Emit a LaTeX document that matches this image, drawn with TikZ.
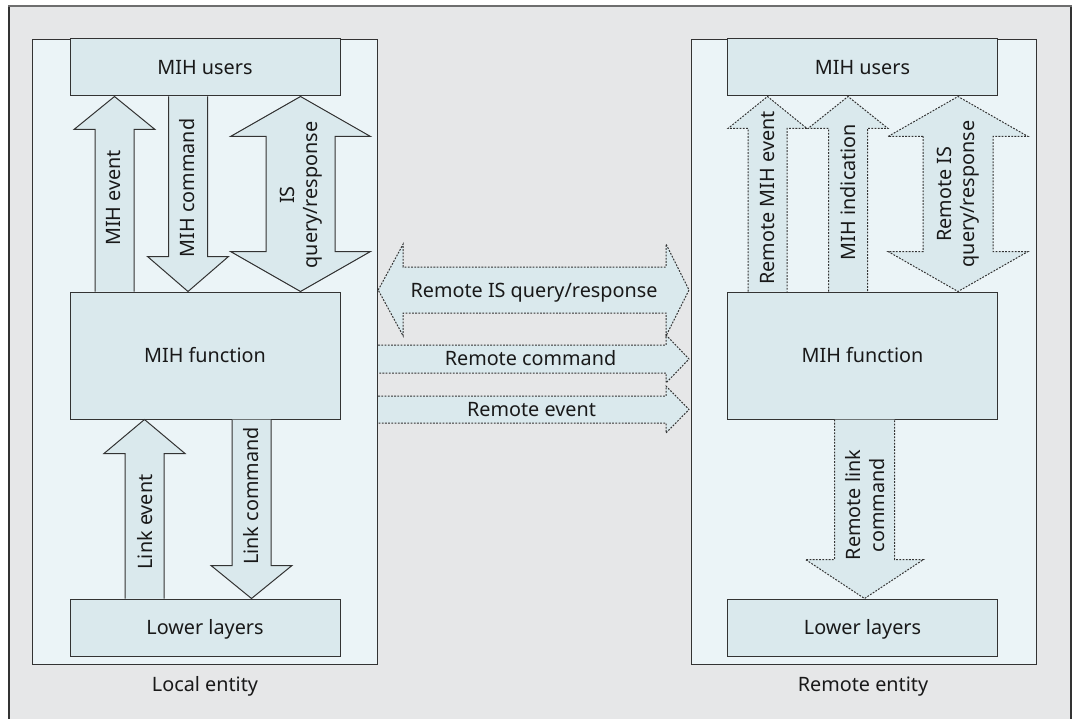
\documentclass[tikz,border=0pt]{standalone}
\usepackage{fontspec}
\setmainfont{Noto Sans}
\usetikzlibrary{calc}

\definecolor{pagegray}{HTML}{E6E7E8}
\definecolor{entityfill}{HTML}{EBF4F7}
\definecolor{boxfill}{HTML}{DAE9ED}
\definecolor{edge}{HTML}{333333}
\definecolor{frameedge}{HTML}{6E6E6E}

% up arrow: style, centre x, half shaft, half head, head length, tail anchor, tip anchor
\newcommand\uparr[7]{%
  \path[#1] let \p1=(#6), \p2=(#7) in
    ({#2pt-#3pt},\y1) -- ({#2pt-#3pt},{\y2-#5pt}) -- ({#2pt-#4pt},{\y2-#5pt})
    -- (#2pt,\y2) -- ({#2pt+#4pt},{\y2-#5pt}) -- ({#2pt+#3pt},{\y2-#5pt})
    -- ({#2pt+#3pt},\y1);}
% down arrow: same arguments
\newcommand\downarr[7]{%
  \path[#1] let \p1=(#6), \p2=(#7) in
    ({#2pt-#3pt},\y1) -- ({#2pt-#3pt},{\y2+#5pt}) -- ({#2pt-#4pt},{\y2+#5pt})
    -- (#2pt,\y2) -- ({#2pt+#4pt},{\y2+#5pt}) -- ({#2pt+#3pt},{\y2+#5pt})
    -- ({#2pt+#3pt},\y1);}
% two-headed vertical arrow: style, centre x, half shaft, half head, head length, top tip, bottom tip
\newcommand\vboth[7]{%
  \path[#1] let \p1=(#6), \p2=(#7) in
    ({#2pt-#3pt},{\y1-#5pt}) -- ({#2pt-#4pt},{\y1-#5pt}) -- (#2pt,\y1)
    -- ({#2pt+#4pt},{\y1-#5pt}) -- ({#2pt+#3pt},{\y1-#5pt})
    -- ({#2pt+#3pt},{\y2+#5pt}) -- ({#2pt+#4pt},{\y2+#5pt}) -- (#2pt,\y2)
    -- ({#2pt-#4pt},{\y2+#5pt}) -- ({#2pt-#3pt},{\y2+#5pt}) -- cycle;}
% right arrow: style, centre y (coordinate), half shaft, half head, head length, tail anchor, tip anchor
\newcommand\rightarr[7]{%
  \path[#1] let \p1=(#6), \p2=(#7), \p3=(#2) in
    (\x1,{\y3+#3pt}) -- ({\x2-#5pt},{\y3+#3pt}) -- ({\x2-#5pt},{\y3+#4pt})
    -- (\x2,\y3) -- ({\x2-#5pt},{\y3-#4pt}) -- ({\x2-#5pt},{\y3-#3pt})
    -- (\x1,{\y3-#3pt});}

\begin{document}
\begin{tikzpicture}[x=1pt,y=-1pt,
  lbl/.style={font=\fontsize{19.8}{23.5}\selectfont, text=black!90, inner sep=0pt},
  boxtext/.style={lbl, text height=14pt, text depth=0pt},
  layer/.style={draw=edge, line width=1pt, fill=boxfill,
    minimum width=270pt, minimum height=57pt, boxtext},
  entity/.style={draw=edge, line width=1.2pt, fill=entityfill,
    minimum width=345pt, minimum height=625pt, inner sep=0pt, anchor=north west},
  solidarrow/.style={draw=edge, line width=1pt, fill=boxfill, line join=miter},
  dotarrow/.style={draw=edge, line width=1pt, fill=boxfill,
    dash pattern=on 1.8pt off 1.4pt},
  vlabel/.style={lbl, rotate=90, align=center},
]
\useasboundingbox (0,0) rectangle (1075,719);

% page background and frame
\fill[pagegray] (9,6) rectangle (1071,730);
\draw[edge, line width=1.4pt] (9,730) -- (9,6);
\draw[edge, line width=1.4pt] (1071,6) -- (1071,730);
\draw[frameedge, line width=2.2pt] (8.3,6) -- (1071.7,6);

% the two entities
\node[entity] (localE) at (32,39) {};
\node[entity] (remoteE) at (691,39) {};
\node[lbl, anchor=base] (localLbl) at (205,691) {Local entity};
\node[lbl, anchor=base] (remoteLbl) at (863,691) {Remote entity};

% layers of the local entity
\node[layer] (usersL) at (205,67.5) {MIH users};
\node[layer, minimum height=127pt] (funcL) at (205,355.5) {MIH function};
\node[layer] (lowerL) at (205,627.5) {Lower layers};

% layers of the remote entity
\node[layer] (usersR) at (862.5,67.5) {MIH users};
\node[layer, minimum height=127pt] (funcR) at (862.5,355.5) {MIH function};
\node[layer] (lowerR) at (862.5,627.5) {Lower layers};

% local primitives
\uparr{solidarrow}{114.5}{19.5}{40.5}{33}{funcL.north}{usersL.south}
\downarr{solidarrow}{188}{19.5}{40.5}{35}{usersL.south}{funcL.north}
\vboth{solidarrow}{300.5}{34.5}{70}{40}{usersL.south}{funcL.north}
\uparr{solidarrow}{144.5}{19.5}{40.5}{34}{lowerL.north}{funcL.south}
\downarr{solidarrow}{251.5}{19.5}{40.5}{33}{funcL.south}{lowerL.north}

\node[vlabel] (lMihEvent) at (114,198) {MIH event};
\node[vlabel] (lMihCmd) at (187,188) {MIH command};
\node[vlabel] (lIs) at (301,195) {IS\\query/response};
\node[vlabel] (lLinkEvent) at (145,522) {Link event};
\node[vlabel] (lLinkCmd) at (251,496) {Link command};

% remote primitives
\uparr{dotarrow}{767.5}{19.5}{39.5}{32}{funcR.north}{usersR.south}
\uparr{dotarrow}{848}{19.5}{40}{32}{funcR.north}{usersR.south}
\vboth{dotarrow}{958}{35}{70}{40}{usersR.south}{funcR.north}
\downarr{dotarrow}{864.5}{30}{59}{39}{funcR.south}{lowerR.north}

\node[vlabel] (rMihEvent) at (767.5,198) {Remote MIH event};
\node[vlabel] (rMihInd) at (848,192) {MIH indication};
\node[vlabel] (rIs) at (958,194) {Remote IS\\query/response};
\node[vlabel] (rLinkCmd) at (865,505) {Remote link\\command};

% messages exchanged between the entities
\coordinate (isRow) at (534,290);
\coordinate (cmdRow) at (534,359);
\coordinate (evRow) at (534,409.5);
\path[dotarrow] let \p1=(localE.east), \p2=(remoteE.west), \p3=(isRow) in
  (\x1,\y3) -- ({\x1+25pt},{\y3+46pt}) -- ({\x1+25pt},{\y3+23pt})
  -- ({\x2-25pt},{\y3+23pt}) -- ({\x2-25pt},{\y3+46pt}) -- ({\x2-2pt},\y3)
  -- ({\x2-25pt},{\y3-46pt}) -- ({\x2-25pt},{\y3-23pt})
  -- ({\x1+25pt},{\y3-23pt}) -- ({\x1+25pt},{\y3-46pt}) -- cycle;
\coordinate (tipR) at ($(remoteE.west)+(-2,0)$);
\rightarr{dotarrow}{cmdRow}{14}{24}{23}{localE.east}{tipR}
\rightarr{dotarrow}{evRow}{13.5}{23.5}{23}{localE.east}{tipR}

\node[boxtext] (isLbl) at (isRow) {Remote IS query/response};
\node[boxtext] (cmdLbl) at (530.5,358) {Remote command};
\node[boxtext] (evLbl) at (531.5,409) {Remote event};
\end{tikzpicture}
\end{document}
